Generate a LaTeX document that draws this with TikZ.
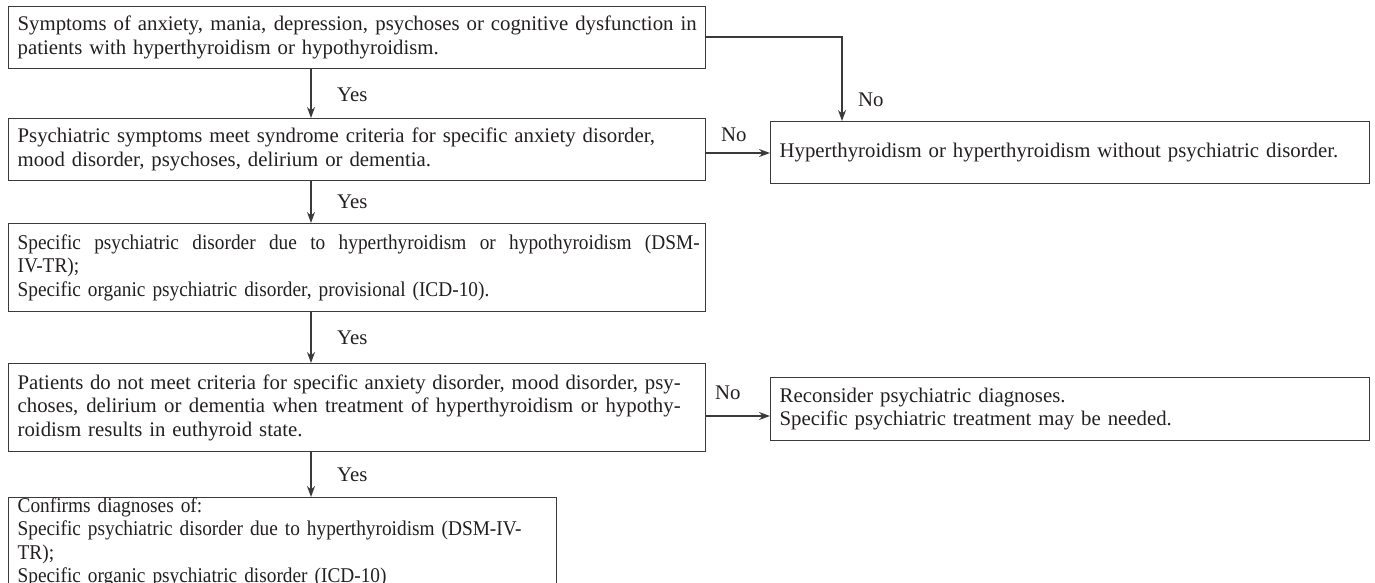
\documentclass[tikz,border=0pt]{standalone}
\usepackage{fontspec}
\setmainfont{Liberation Serif}
\newfontfamily\condserif[FakeStretch=0.92]{Liberation Serif}
\usetikzlibrary{arrows.meta}
\definecolor{ink}{HTML}{231F20}
\definecolor{linec}{HTML}{3A3A3A}
\newcommand{\jline}[2]{\makebox[#1][s]{\spaceskip=0.25em plus 1em minus 0.05em\relax #2}}
\newcommand{\condsetup}{\condserif\fontsize{21}{23.5}\selectfont}
\tikzset{
  box/.style={draw=linec, line width=1.3pt, anchor=north west, align=left, inner xsep=9pt, inner ysep=0pt,
    text=ink, font=\fontsize{20.8}{23.5}\selectfont},
  cbox/.style={box, font=\condsetup},
  conn/.style={draw=linec, line width=1.3pt, -{Stealth[length=11pt,width=8pt]}},
  lbl/.style={text=ink, font=\fontsize{20.8}{23.5}\selectfont, inner sep=0pt}
}
\begin{document}
\begin{tikzpicture}[x=1pt,y=-1pt]
\useasboundingbox (0,0) rectangle (1375,583);
\node[box, minimum width=697pt, minimum height=62pt, text width=679pt] (b1) at (8,6)
  {\jline{679pt}{Symptoms of anxiety, mania, depression, psychoses or cognitive dysfunction in}\\patients with hyperthyroidism or hypothyroidism.};
\node[box, minimum width=697pt, minimum height=62pt, text width=679pt] (b2) at (8,118)
  {Psychiatric symptoms meet syndrome criteria for specific anxiety disorder,\\mood disorder, psychoses, delirium or dementia.};
\node[box, minimum width=599pt, minimum height=62pt, text width=581pt] (r1) at (770,121)
  {Hyperthyroidism or hyperthyroidism without psychiatric disorder.};
\node[cbox, minimum width=697pt, minimum height=88pt, text width=679pt] (b3) at (8,223)
  {\jline{682pt}{Specific psychiatric disorder due to hyperthyroidism or hypothyroidism (DSM-}\\IV-TR);\\Specific organic psychiatric disorder, provisional (ICD-10).};
\node[box, minimum width=697pt, minimum height=88pt, text width=679pt] (b4) at (8,363)
  {\jline{663pt}{Patients do not meet criteria for specific anxiety disorder, mood disorder, psy-}\\\jline{663pt}{choses, delirium or dementia when treatment of hyperthyroidism or hypothy-}\\roidism results in euthyroid state.};
\node[box, minimum width=599pt, minimum height=63pt, text width=581pt] (r2) at (770,377)
  {Reconsider psychiatric diagnoses.\\Specific psychiatric treatment may be needed.};
\node[cbox, minimum width=548pt, minimum height=82pt, text width=530pt] (b5) at (8,497)
  {Confirms diagnoses of:\\Specific psychiatric disorder due to hyperthyroidism (DSM-IV-TR);\\Specific organic psychiatric disorder (ICD-10)};
% connectors
\draw[conn] (b1.south -| 311,0) -- (b2.north -| 311,0);
\draw[conn] (b2.south -| 311,0) -- (b3.north -| 311,0);
\draw[conn] (b3.south -| 311,0) -- (b4.north -| 311,0);
\draw[conn] (b4.south -| 311,0) -- (b5.north -| 311,0);
\coordinate (c1) at (842,37);
\draw[conn] (b1.east |- c1) -- (c1) -- (r1.north -| c1);
\draw[conn] (b2.east |- 0,153) -- (r1.west |- 0,153);
\draw[conn] (b4.east |- 0,416) -- (r2.west |- 0,416);
% labels
\node[lbl, anchor=west] (y1) at (337,95) {Yes};
\node[lbl, anchor=west] (y2) at (337,202) {Yes};
\node[lbl, anchor=west] (y3) at (337,338) {Yes};
\node[lbl, anchor=west] (y4) at (337,475) {Yes};
\node[lbl, anchor=west] (n1) at (858,100) {No};
\node[lbl, anchor=west] (n2) at (721,135) {No};
\node[lbl, anchor=west] (n3) at (715,393) {No};
\end{tikzpicture}
\end{document}
